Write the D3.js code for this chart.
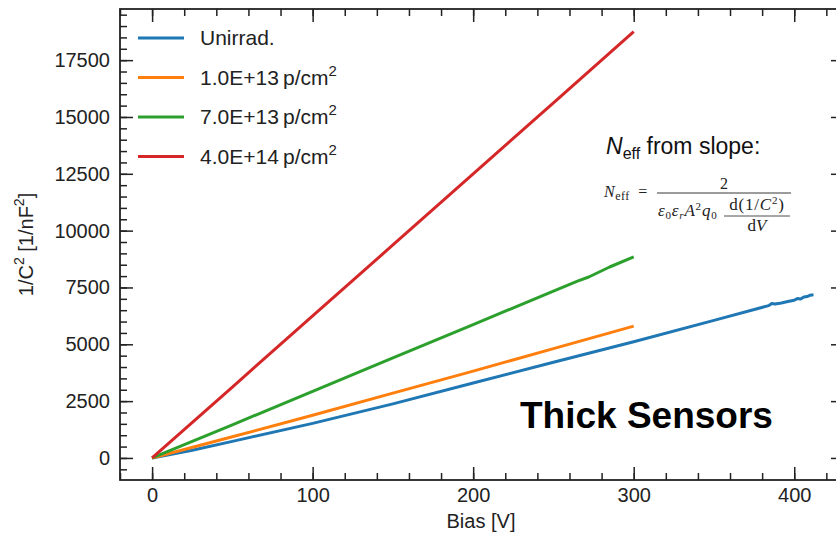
<!DOCTYPE html>
<html>
<head>
<meta charset="utf-8">
<script src="https://cdn.jsdelivr.net/npm/d3@7"></script>
<style>
  html, body { margin: 0; padding: 0; background: #fff; overflow: hidden; }
  svg { display: block; font-family: "Liberation Sans", Arial, sans-serif; }
</style>
</head>
<body>
<svg id="chart" width="836" height="533"></svg>
<script>
// Bias voltage [V] and 1/C^2 [1/nF^2] for each fluence
const biasUnirr = [0, 25, 50, 100, 150, 200, 250, 300, 350, 384, 386, 388, 392, 396, 400, 402, 404, 406, 408, 410, 412];
const invC2Unirr = [0, 340, 730, 1520, 2380, 3300, 4210, 5110, 6050, 6700, 6790, 6770, 6820, 6880, 6940, 7010, 6990, 7080, 7100, 7160, 7180];

const bias1e13 = [0, 50, 100, 150, 200, 250, 300];
const invC21e13 = [0, 930, 1880, 2850, 3820, 4810, 5800];

const bias7e13 = [0, 50, 100, 150, 200, 250, 265, 272, 285, 300];
const invC27e13 = [0, 1460, 2930, 4400, 5870, 7340, 7780, 7960, 8400, 8850];

const bias4e14 = [0, 50, 100, 150, 200, 250, 300];
const invC24e14 = [0, 3120, 6250, 9370, 12500, 15620, 18750];

const seriesNames = ["Unirrad.", "1.0E+13", "7.0E+13", "4.0E+14"];
const seriesColors = ["#1f77b4", "#ff7f0e", "#2ca02c", "#d62728"];
const seriesX = [biasUnirr, bias1e13, bias7e13, bias4e14];
const seriesY = [invC2Unirr, invC21e13, invC27e13, invC24e14];

const xMajorTicks = [0, 100, 200, 300, 400];
const yMajorTicks = [0, 2500, 5000, 7500, 10000, 12500, 15000, 17500];

const svg = d3.select("#chart");
const plotLeft = 120, plotTop = 9, plotRight = 844, plotBottom = 480;

const x = d3.scaleLinear().domain([-20, 431]).range([plotLeft, plotRight]);
const y = d3.scaleLinear().domain([-970, 19750]).range([plotBottom, plotTop]);

const xMinor = d3.range(-20, 431, 20);
const yMinor = d3.range(-500, 19751, 500);

const axisColor = "#222";
const fmt = d3.format("d");

function styleAxis(g) {
  g.selectAll("path.domain").remove();
  g.selectAll("line").attr("stroke", axisColor).attr("stroke-width", 1.5);
  g.selectAll("text").attr("fill", "#222").style("font-size", "20px")
    .style("font-family", '"Liberation Sans", Arial, sans-serif');
}

// inward major ticks with labels on bottom/left
svg.append("g").attr("transform", `translate(0,${plotBottom})`)
  .call(d3.axisBottom(x).tickValues(xMajorTicks).tickFormat(fmt).tickSize(-13).tickPadding(8).tickSizeOuter(0))
  .call(styleAxis);
svg.append("g").attr("transform", `translate(${plotLeft},0)`)
  .call(d3.axisLeft(y).tickValues(yMajorTicks).tickFormat(fmt).tickSize(-13).tickPadding(10).tickSizeOuter(0))
  .call(styleAxis);
// mirrored ticks on top/right
svg.append("g").attr("transform", `translate(0,${plotTop})`)
  .call(d3.axisTop(x).tickValues(xMajorTicks).tickSize(-13).tickFormat("").tickSizeOuter(0))
  .call(styleAxis);
svg.append("g").attr("transform", `translate(${plotRight},0)`)
  .call(d3.axisRight(y).tickValues(yMajorTicks).tickSize(-13).tickFormat("").tickSizeOuter(0))
  .call(styleAxis);
// minor ticks
svg.append("g").attr("transform", `translate(0,${plotBottom})`)
  .call(d3.axisBottom(x).tickValues(xMinor).tickSize(-7).tickFormat("").tickSizeOuter(0))
  .call(styleAxis);
svg.append("g").attr("transform", `translate(0,${plotTop})`)
  .call(d3.axisTop(x).tickValues(xMinor).tickSize(-7).tickFormat("").tickSizeOuter(0))
  .call(styleAxis);
svg.append("g").attr("transform", `translate(${plotLeft},0)`)
  .call(d3.axisLeft(y).tickValues(yMinor).tickSize(-7).tickFormat("").tickSizeOuter(0))
  .call(styleAxis);
svg.append("g").attr("transform", `translate(${plotRight},0)`)
  .call(d3.axisRight(y).tickValues(yMinor).tickSize(-7).tickFormat("").tickSizeOuter(0))
  .call(styleAxis);

// frame
svg.append("rect")
  .attr("x", plotLeft).attr("y", plotTop)
  .attr("width", plotRight - plotLeft).attr("height", plotBottom - plotTop)
  .attr("fill", "none").attr("stroke", axisColor).attr("stroke-width", 1.8);

// curves
const line = d3.line().x(d => x(d[0])).y(d => y(d[1]));
seriesX.forEach((xs, i) => {
  const pts = xs.map((v, j) => [v, seriesY[i][j]]);
  svg.append("path")
    .datum(pts)
    .attr("d", line)
    .attr("fill", "none")
    .attr("stroke", seriesColors[i])
    .attr("stroke-width", 3)
    .attr("stroke-linejoin", "round")
    .attr("stroke-linecap", "butt");
});

// legend
const legend = svg.append("g");
seriesNames.forEach((name, i) => {
  const ly = 38 + i * 39.5;
  legend.append("line")
    .attr("x1", 138).attr("x2", 184).attr("y1", ly).attr("y2", ly)
    .attr("stroke", seriesColors[i]).attr("stroke-width", 3);
  const t = legend.append("text")
    .attr("x", 200).attr("y", ly + 7)
    .attr("fill", "#222").style("font-size", "21px");
  if (i === 0) {
    t.text(name);
  } else {
    t.append("tspan").text(name + "\u2009p/cm");
    t.append("tspan").attr("dy", -9).style("font-size", "15px").text("2");
  }
});

// axis titles
svg.append("text")
  .attr("x", (plotLeft + 842) / 2).attr("y", 528)
  .attr("text-anchor", "middle").attr("fill", "#222")
  .style("font-size", "20px").text("Bias [V]");

const yl = svg.append("text")
  .attr("transform", `translate(33,${(plotTop + plotBottom) / 2}) rotate(-90)`)
  .attr("text-anchor", "middle").attr("fill", "#222")
  .style("font-size", "20px");
yl.append("tspan").text("1/C");
yl.append("tspan").attr("dy", -9).style("font-size", "14px").text("2");
yl.append("tspan").attr("dy", 9).text(" [1/nF");
yl.append("tspan").attr("dy", -9).style("font-size", "14px").text("2");
yl.append("tspan").attr("dy", 9).text("]");

// N_eff annotation
const ann = svg.append("text").attr("x", 606).attr("y", 154)
  .attr("fill", "#111").style("font-size", "23px");
ann.append("tspan").style("font-style", "italic").text("N");
ann.append("tspan").attr("dy", 5).style("font-size", "16px").text("eff");
ann.append("tspan").attr("dy", -5).text(" from slope:");

// formula
const serif = '"Liberation Serif", "DejaVu Serif", serif';
const fm = svg.append("g").style("font-family", serif).attr("fill", "#222");
const f1 = fm.append("text").attr("x", 604).attr("y", 197).style("font-size", "16px")
  .style("letter-spacing", "0.5px");
f1.append("tspan").style("font-style", "italic").text("N");
f1.append("tspan").attr("dy", 3).style("font-size", "12px").text("eff");
f1.append("tspan").attr("dy", -3).text("\u2002=");
fm.append("line").attr("x1", 657).attr("x2", 791).attr("y1", 193).attr("y2", 193)
  .attr("stroke", "#222").attr("stroke-width", 0.9);
fm.append("text").attr("x", 724).attr("y", 189).attr("text-anchor", "middle")
  .style("font-size", "16px").text("2");
const f2 = fm.append("text").attr("x", 658).attr("y", 216).style("font-size", "17px")
  .style("letter-spacing", "0.8px");
f2.append("tspan").style("font-style", "italic").text("ε");
f2.append("tspan").attr("dy", 3).style("font-size", "11px").text("0");
f2.append("tspan").attr("dy", -3).style("font-style", "italic").text("ε");
f2.append("tspan").attr("dy", 3).style("font-size", "11px").style("font-style", "italic").text("r");
f2.append("tspan").attr("dy", -3).style("font-style", "italic").text("A");
f2.append("tspan").attr("dy", -6).style("font-size", "11px").text("2");
f2.append("tspan").attr("dy", 6).style("font-style", "italic").text("q");
f2.append("tspan").attr("dy", 3).style("font-size", "11px").text("0");
const f3 = fm.append("text").attr("x", 757).attr("y", 210).attr("text-anchor", "middle")
  .style("font-size", "17px").style("letter-spacing", "0.8px");
f3.append("tspan").text("d(1/");
f3.append("tspan").style("font-style", "italic").text("C");
f3.append("tspan").attr("dy", -6).style("font-size", "11px").text("2");
f3.append("tspan").attr("dy", 6).text(")");
fm.append("line").attr("x1", 724).attr("x2", 790).attr("y1", 216).attr("y2", 216)
  .attr("stroke", "#222").attr("stroke-width", 0.8);
const f4 = fm.append("text").attr("x", 757).attr("y", 231).attr("text-anchor", "middle")
  .style("font-size", "17px");
f4.append("tspan").text("d");
f4.append("tspan").style("font-style", "italic").text("V");

// panel title
svg.append("text").attr("x", 520).attr("y", 428)
  .attr("fill", "#000").style("font-size", "37px").style("font-weight", "bold")
  .text("Thick Sensors");
</script>
</body>
</html>
